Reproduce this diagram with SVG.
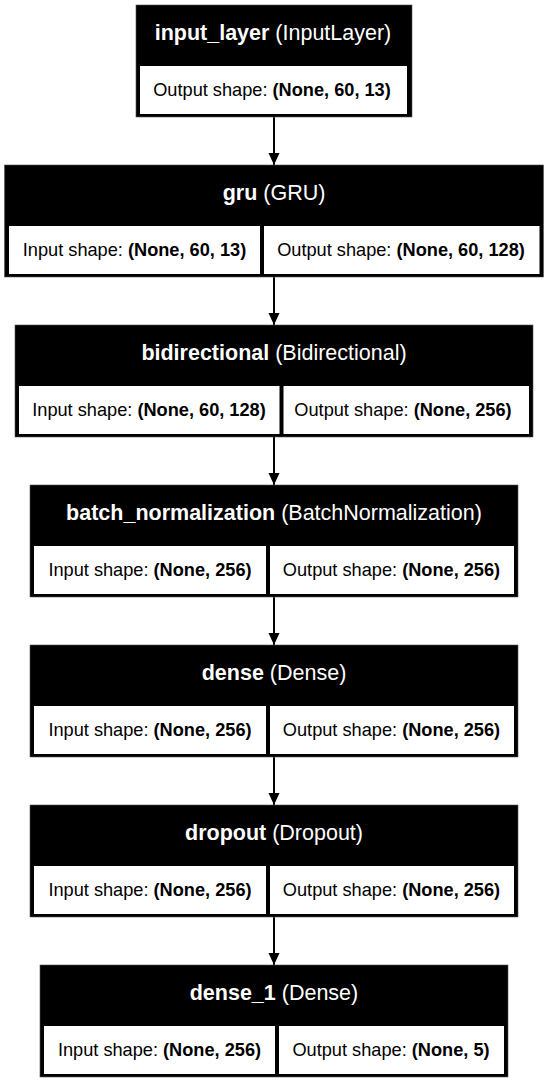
<svg xmlns="http://www.w3.org/2000/svg" width="548" height="1083" viewBox="0 0 548 1083">
<style>
  .box { fill: #000; stroke: #555; stroke-width: 0.6; }
  .cell { fill: #fff; }
  .hd { font-family: "Liberation Sans", Arial, sans-serif; font-size: 21.5px; fill: #fff; text-anchor: middle; }
  .ct { font-family: "Liberation Sans", Arial, sans-serif; font-size: 18.2px; fill: #000; text-anchor: middle; }
  .b { font-weight: bold; }
  .edge { stroke: #000; stroke-width: 2; fill: none; marker-end: url(#arr); }
</style>
<defs>
  <marker id="arr" markerUnits="userSpaceOnUse" markerWidth="12" markerHeight="12" refX="12" refY="5.5" orient="auto">
    <path d="M0,0 L12,5.5 L0,11 z" fill="#000"/>
  </marker>
</defs>
<rect width="548" height="1083" fill="#fff"/>
<g id="connectors">
  <line class="edge" x1="274" y1="117" x2="274" y2="165"/>
  <line class="edge" x1="274" y1="277" x2="274" y2="325"/>
  <line class="edge" x1="274" y1="437" x2="274" y2="485"/>
  <line class="edge" x1="274" y1="597" x2="274" y2="645"/>
  <line class="edge" x1="274" y1="757" x2="274" y2="805"/>
  <line class="edge" x1="274" y1="917" x2="274" y2="965"/>
</g>
<g id="input_layer">
  <rect class="box" x="136" y="5" width="276" height="112"/>
  <rect class="cell" x="140" y="66" width="267" height="48"/>
  <text class="hd" x="273" y="40"><tspan class="b">input_layer</tspan> (InputLayer)</text>
  <text class="ct" x="272" y="96">Output shape: <tspan class="b">(None, 60, 13)</tspan></text>
</g>
<g id="gru">
  <rect class="box" x="4.5" y="165" width="539" height="112"/>
  <rect class="cell" x="9" y="226" width="251" height="48"/>
  <rect class="cell" x="264" y="226" width="275.5" height="48"/>
  <text class="hd" x="274" y="200"><tspan class="b">gru</tspan> (GRU)</text>
  <text class="ct" x="134.5" y="256">Input shape: <tspan class="b">(None, 60, 13)</tspan></text>
  <text class="ct" x="401" y="256">Output shape: <tspan class="b">(None, 60, 128)</tspan></text>
</g>
<g id="bidirectional">
  <rect class="box" x="15" y="325" width="518" height="112"/>
  <rect class="cell" x="19" y="386" width="260.5" height="48"/>
  <rect class="cell" x="283.5" y="386" width="245.5" height="48"/>
  <text class="hd" x="274" y="360"><tspan class="b">bidirectional</tspan> (Bidirectional)</text>
  <text class="ct" x="149" y="416">Input shape: <tspan class="b">(None, 60, 128)</tspan></text>
  <text class="ct" x="403" y="416">Output shape: <tspan class="b">(None, 256)</tspan></text>
</g>
<g id="batch_normalization">
  <rect class="box" x="30" y="485" width="488" height="112"/>
  <rect class="cell" x="34" y="546" width="232" height="48"/>
  <rect class="cell" x="270" y="546" width="244" height="48"/>
  <text class="hd" x="274" y="520"><tspan class="b">batch_normalization</tspan> (BatchNormalization)</text>
  <text class="ct" x="150" y="576">Input shape: <tspan class="b">(None, 256)</tspan></text>
  <text class="ct" x="391.5" y="576">Output shape: <tspan class="b">(None, 256)</tspan></text>
</g>
<g id="dense">
  <rect class="box" x="30" y="645" width="488" height="112"/>
  <rect class="cell" x="34" y="706" width="232" height="48"/>
  <rect class="cell" x="270" y="706" width="244" height="48"/>
  <text class="hd" x="274" y="680"><tspan class="b">dense</tspan> (Dense)</text>
  <text class="ct" x="150" y="736">Input shape: <tspan class="b">(None, 256)</tspan></text>
  <text class="ct" x="391.5" y="736">Output shape: <tspan class="b">(None, 256)</tspan></text>
</g>
<g id="dropout">
  <rect class="box" x="30" y="805" width="488" height="112"/>
  <rect class="cell" x="34" y="866" width="232" height="48"/>
  <rect class="cell" x="270" y="866" width="244" height="48"/>
  <text class="hd" x="274" y="840"><tspan class="b">dropout</tspan> (Dropout)</text>
  <text class="ct" x="150" y="896">Input shape: <tspan class="b">(None, 256)</tspan></text>
  <text class="ct" x="391.5" y="896">Output shape: <tspan class="b">(None, 256)</tspan></text>
</g>
<g id="dense_1">
  <rect class="box" x="40" y="965" width="468" height="112"/>
  <rect class="cell" x="44" y="1026" width="231" height="48"/>
  <rect class="cell" x="279" y="1026" width="225" height="48"/>
  <text class="hd" x="274" y="1000"><tspan class="b">dense_1</tspan> (Dense)</text>
  <text class="ct" x="159.5" y="1056">Input shape: <tspan class="b">(None, 256)</tspan></text>
  <text class="ct" x="391" y="1056">Output shape: <tspan class="b">(None, 5)</tspan></text>
</g>
</svg>
